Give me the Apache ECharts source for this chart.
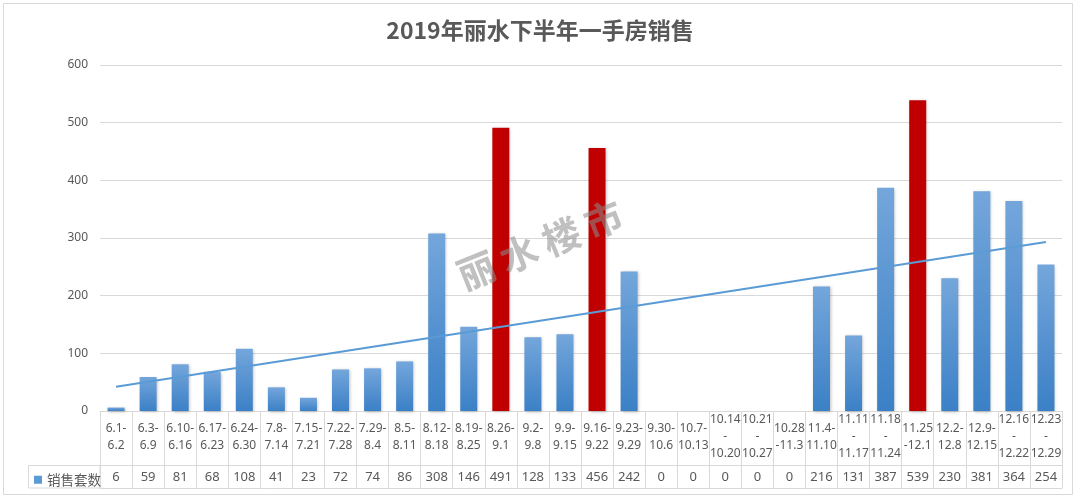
<!DOCTYPE html>
<html>
<head>
<meta charset="utf-8">
<script src="https://cdn.jsdelivr.net/npm/echarts@6/dist/echarts.min.js"></script>
<style>
html,body{margin:0;padding:0;background:#fff;}
#c{width:1080px;height:499px;}
</style>
</head>
<body>
<div id="c"></div>
<script>
// ---- data ----
var titleText = "2019年丽水下半年一手房销售";
var seriesName = "销售套数";
var categories = ["6.1-\n6.2","6.3-\n6.9","6.10-\n6.16","6.17-\n6.23","6.24-\n6.30","7.8-\n7.14","7.15-\n7.21","7.22-\n7.28","7.29-\n8.4","8.5-\n8.11","8.12-\n8.18","8.19-\n8.25","8.26-\n9.1","9.2-\n9.8","9.9-\n9.15","9.16-\n9.22","9.23-\n9.29","9.30-\n10.6","10.7-\n10.13","10.14\n-\n10.20","10.21\n-\n10.27","10.28\n-11.3","11.4-\n11.10","11.11\n-\n11.17","11.18\n-\n11.24","11.25\n-12.1","12.2-\n12.8","12.9-\n12.15","12.16\n-\n12.22","12.23\n-\n12.29"];
var sales = [6,59,81,68,108,41,23,72,74,86,308,146,491,128,133,456,242,0,0,0,0,0,216,131,387,539,230,381,364,254];
var highlighted = [12, 15, 25];           // bars drawn in red
var trendEnds = [42, 293];                // trendline value at first and last week
var yTicks = {min: 0, max: 600, interval: 100};
var watermark = "丽\u2009水\u2009楼\u2009市";

// ---- build ----
var blueGrad = new echarts.graphic.LinearGradient(0, 0, 0, 1, [
  {offset: 0, color: '#74a6db'},
  {offset: 1, color: '#3b80c6'}
]);
var barData = sales.map(function (v, i) {
  if (highlighted.indexOf(i) >= 0) {
    return {value: v, itemStyle: {color: '#c00000'}};
  }
  return v;
});
var trendData = categories.map(function (c, i) {
  if (i === 0) return trendEnds[0];
  if (i === categories.length - 1) return trendEnds[1];
  return null;
});
var gridC = '#d9d9d9';
var txt = '#595959';
var font = 'Noto Sans, Noto Sans CJK SC, sans-serif';

var chart = echarts.init(document.getElementById('c'), null, {renderer: 'canvas'});
chart.setOption({
  backgroundColor: '#ffffff',
  animation: false,
  title: {
    text: titleText, left: 'center', top: 14,
    textStyle: {color: txt, fontSize: 23, fontWeight: 'bold', fontFamily: 'Noto Sans CJK SC, sans-serif'}
  },
  legend: {
    data: [{name: seriesName, itemStyle: {color: '#5b9bd5'}}],
    left: 29, top: 468, icon: 'rect', itemWidth: 8, itemHeight: 8, itemGap: 4,
    textStyle: {color: txt, fontSize: 13.5, fontFamily: 'Noto Sans CJK SC, sans-serif'},
    selectedMode: false
  },
  grid: {left: 100, right: 18, top: 65, bottom: 88},
  xAxis: [{
    type: 'category', data: categories, position: 'bottom',
    axisLine: {show: true, lineStyle: {color: gridC, width: 1}},
    axisTick: {show: true, length: 77, lineStyle: {color: gridC}},
    axisLabel: {interval: 0, color: txt, fontSize: 12, fontFamily: font, lineHeight: 17,
      verticalAlign: 'middle', margin: 26, hideOverlap: false}
  }, {
    type: 'category', data: sales.map(String), position: 'bottom', offset: 54,
    axisLine: {show: true, lineStyle: {color: gridC}},
    axisTick: {show: false},
    axisLabel: {interval: 0, color: txt, fontSize: 13, fontFamily: font, verticalAlign: 'middle', margin: 12}
  }, {
    type: 'category', data: categories, position: 'bottom', offset: 77,
    axisLine: {show: true, lineStyle: {color: gridC}},
    axisTick: {show: false}, axisLabel: {show: false}
  }],
  yAxis: {
    type: 'value', min: yTicks.min, max: yTicks.max, interval: yTicks.interval,
    axisLine: {show: false}, axisTick: {show: false},
    axisLabel: {color: txt, fontSize: 12, fontFamily: font, margin: 12},
    splitLine: {lineStyle: {color: gridC}}
  },
  series: [{
    name: seriesName, type: 'bar', data: barData, barWidth: 17,
    itemStyle: {color: blueGrad, shadowBlur: 3, shadowColor: 'rgba(0,0,0,0.25)', shadowOffsetX: 1, shadowOffsetY: 1}
  }, {
    name: 'trend', type: 'line', data: trendData, connectNulls: true,
    showSymbol: false, symbol: 'none', silent: true,
    lineStyle: {color: '#5b9bd5', width: 2}, z: 5
  }],
  graphic: [{
    type: 'rect', shape: {x: 3.5, y: 3.5, width: 1069, height: 491},
    style: {fill: 'none', stroke: gridC, lineWidth: 1}, silent: true, z: -1
  }, {
    type: 'rect', shape: {x: 28.5, y: 465.5, width: 71.5, height: 22.5},
    style: {fill: 'none', stroke: gridC, lineWidth: 1}, silent: true
  }, {
    type: 'text', x: 540, y: 245, rotation: 0.38,
    style: {text: watermark, fill: 'rgba(140,140,140,0.55)', fontSize: 38, fontWeight: 'bold',
      fontFamily: 'Noto Sans CJK SC, sans-serif', align: 'center', verticalAlign: 'middle'},
    silent: true, z: 100
  }]
});
</script>
</body>
</html>
